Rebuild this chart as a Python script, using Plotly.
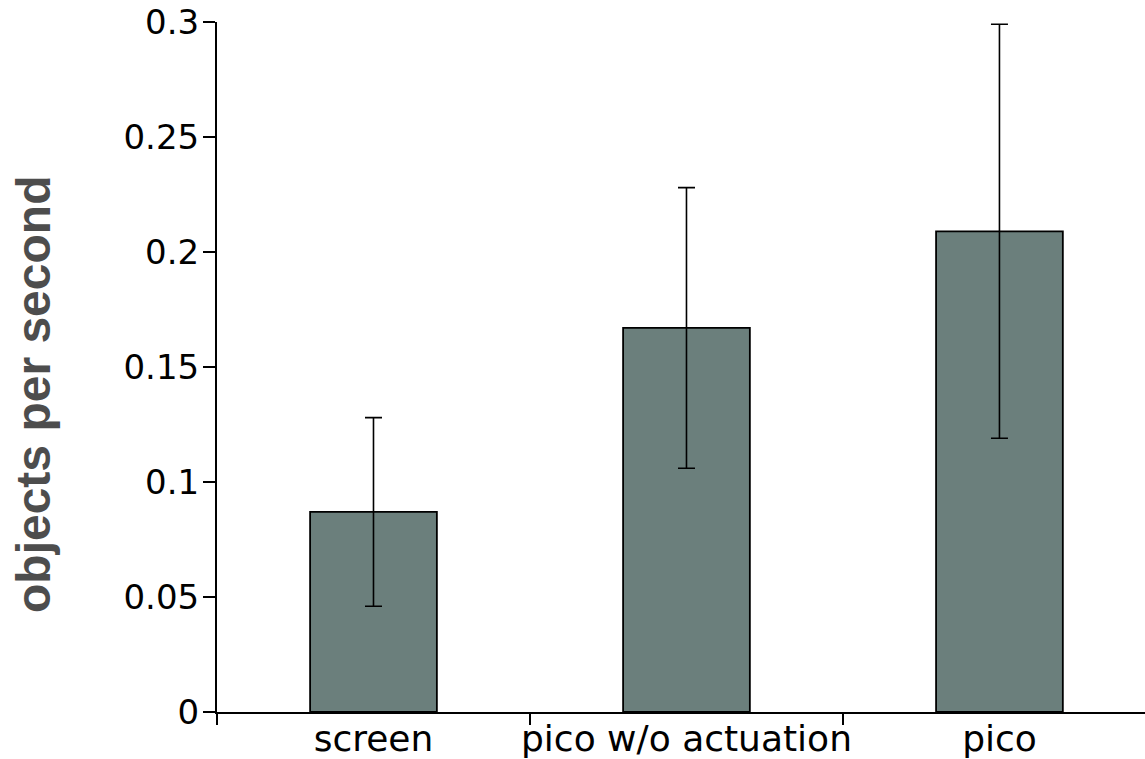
import plotly.graph_objects as go

categories = ["screen", "pico w/o actuation", "pico"]
values = [0.087, 0.167, 0.209]
errors = [0.041, 0.061, 0.090]
y_ticks = [0, 0.05, 0.1, 0.15, 0.2, 0.25, 0.3]
y_tick_text = ["0", "0.05", "0.1", "0.15", "0.2", "0.25", "0.3"]
y_title = "objects per second"

W, H = 1145, 759
L, R, T, B = 217, 0, 22, 47

fig = go.Figure(go.Bar(
    x=categories, y=values, width=0.405,
    marker=dict(color="#6b7f7c", line=dict(color="black", width=1.8)),
    error_y=dict(type="data", array=errors, visible=True, color="black",
                 thickness=1.6, width=8.5),
))

fig.update_layout(
    width=W, height=H, margin=dict(l=L, r=R, t=T, b=B, pad=0),
    plot_bgcolor="white", paper_bgcolor="white", showlegend=False,
    font=dict(family="DejaVu Sans", size=34, color="black"),
    xaxis=dict(type="category", range=[-0.5, 2.465], tickson="boundaries",
               ticks="outside", ticklen=11, tickwidth=1.5, tickcolor="black",
               showline=True, linecolor="black", linewidth=2, showgrid=False,
               zeroline=False, tickangle=0, tickfont=dict(size=36),
               automargin=False, ticklabelstandoff=-6),
    yaxis=dict(range=[0, 0.3], tickvals=y_ticks, ticktext=y_tick_text,
               ticks="outside", ticklen=12, tickwidth=1.5, tickcolor="black",
               showline=True, linecolor="black", linewidth=2, showgrid=False,
               zeroline=False, tickfont=dict(size=34), automargin=False,
               ticklabelstandoff=-3),
    annotations=[dict(text="<b>" + y_title + "</b>", xref="paper", yref="paper",
                      x=(33 - L) / (W - L - R), y=(712 - 395) / (712 - T),
                      xanchor="center", yanchor="middle", textangle=-90,
                      showarrow=False,
                      font=dict(family="Liberation Sans", size=48, color="#4d4d4d"))],
)

fig.write_html("out.html")
